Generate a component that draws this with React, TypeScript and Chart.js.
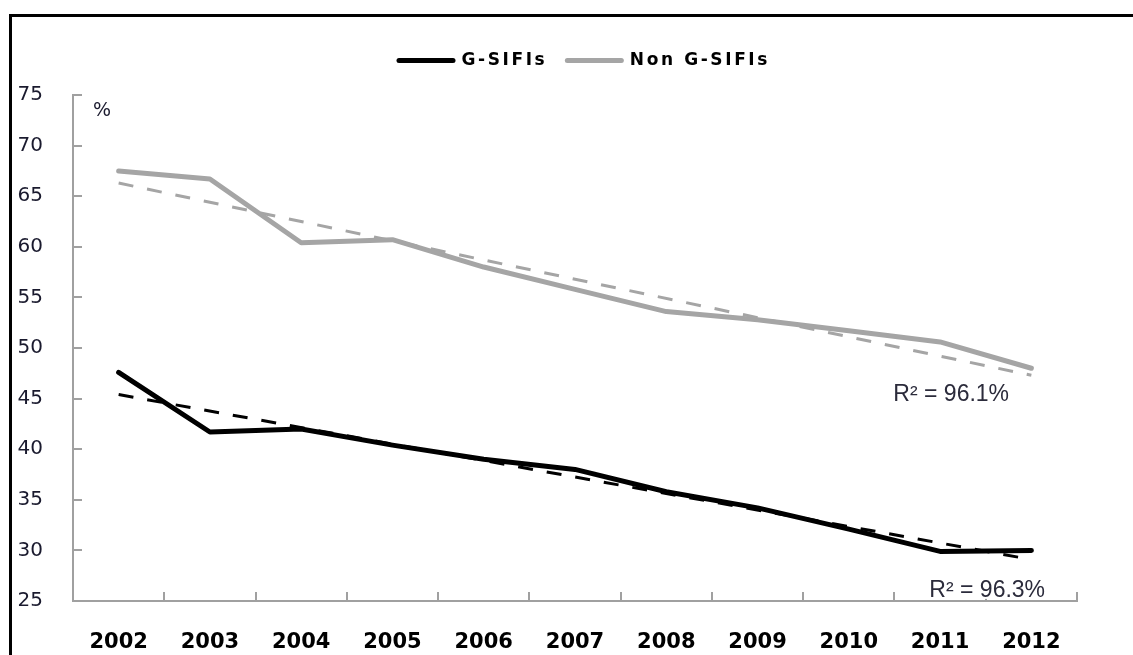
import React, { useEffect, useRef } from 'react';
import { Chart, registerables } from 'chart.js';

Chart.register(...registerables);

// ---- data ----
const years = ['2002', '2003', '2004', '2005', '2006', '2007', '2008', '2009', '2010', '2011', '2012'];
const gSifis = [47.6, 41.7, 42.0, 40.4, 39.0, 38.0, 35.8, 34.2, 32.1, 29.9, 30.0];
const nonGSifis = [67.5, 66.7, 60.4, 60.7, 58.0, 55.8, 53.6, 52.8, 51.7, 50.6, 48.0];
// linear trend lines: values at the first and last year
const trendYears = ['2002', '2012'];
const gSifisTrend = [45.4, 29.1];
const nonGSifisTrend = [66.3, 47.3];
const seriesNames = ['G-SIFIs', 'Non G-SIFIs'];
const yMin = 25;
const yMax = 75;
const yStep = 5;
const unitLabel = '%';
const rSquaredTexts = ['R\u00B2 = 96.1%', 'R\u00B2 = 96.3%'];
const rSquaredValues = [45.35, 26.0];

// ---- styles ----
const BLACK = '#000000';
const GREY = '#a5a5a5';
const AXIS = '#a0a0a0';
const LEGEND_SHIFT_X = 46;
const LEGEND_SHIFT_Y = -16;
const LEGEND_LETTER_SPACING = '2.6px';
const rSquaredDx = [-138, -102];

const legendTweak = {
  id: 'legendTweak',
  beforeLayout(chart: any) {
    const lg = chart.legend;
    if (lg && !lg.__patched) {
      lg.__patched = true;
      const ctx = chart.ctx;
      ['fit', 'draw'].forEach((m) => {
        const orig = lg[m].bind(lg);
        lg[m] = (...args: any[]) => {
          const prev = ctx.letterSpacing;
          ctx.letterSpacing = LEGEND_LETTER_SPACING;
          try {
            return orig(...args);
          } finally {
            ctx.letterSpacing = prev;
          }
        };
      });
    }
  },
  afterLayout(chart: any) {
    const lg = chart.legend;
    if (!lg) return;
    lg.left += LEGEND_SHIFT_X;
    lg.right += LEGEND_SHIFT_X;
    lg.top += LEGEND_SHIFT_Y;
    lg.bottom += LEGEND_SHIFT_Y;
  },
};

const textPlugin = {
  id: 'texts',
  afterDraw(chart: any) {
    const { ctx, chartArea, scales } = chart;
    ctx.save();
    ctx.textBaseline = 'middle';
    ctx.textAlign = 'left';
    ctx.font = '19px "DejaVu Sans"';
    ctx.fillStyle = '#1a1a2e';
    ctx.fillText(unitLabel, chartArea.left + 20, chartArea.top + 16);
    ctx.font = '23px "Liberation Sans"';
    rSquaredTexts.forEach((t, i) => {
      const px = scales.x.getPixelForValue(years.length - 1) + rSquaredDx[i];
      const py = scales.y.getPixelForValue(rSquaredValues[i]);
      const w = ctx.measureText(t).width;
      ctx.fillStyle = '#ffffff';
      ctx.fillRect(px - 2, py - 11, w + 4, 19);
      ctx.fillStyle = '#2b2b3b';
      ctx.fillText(t, px, py);
    });
    ctx.restore();
  },
};

export default function App() {
  const ref = useRef<HTMLCanvasElement>(null);

  useEffect(() => {
    const canvas = ref.current;
    if (!canvas) return;
    const colors = [BLACK, GREY];
    const chart = new Chart(canvas, {
      type: 'line',
      data: {
        labels: years,
        datasets: [
          {
            label: seriesNames[0],
            data: gSifis,
            borderColor: BLACK,
            borderWidth: 5,
            pointRadius: 0,
            tension: 0,
            borderJoinStyle: 'round',
            borderCapStyle: 'round',
          },
          {
            label: seriesNames[1],
            data: nonGSifis,
            borderColor: GREY,
            borderWidth: 5,
            pointRadius: 0,
            tension: 0,
            borderJoinStyle: 'round',
            borderCapStyle: 'round',
          },
          {
            label: seriesNames[0] + ' trend',
            data: trendYears.map((x, i) => ({ x, y: gSifisTrend[i] })),
            borderColor: BLACK,
            borderWidth: 3,
            borderDash: [15, 14],
            pointRadius: 0,
          },
          {
            label: seriesNames[1] + ' trend',
            data: trendYears.map((x, i) => ({ x, y: nonGSifisTrend[i] })),
            borderColor: GREY,
            borderWidth: 3,
            borderDash: [15, 14],
            pointRadius: 0,
          },
        ] as any,
      },
      options: {
        responsive: false,
        animation: false,
        devicePixelRatio: 1,
        events: [],
        layout: { padding: { top: 48, right: 56, left: 0, bottom: 0 } },
        plugins: {
          tooltip: { enabled: false },
          legend: {
            display: true,
            position: 'top',
            align: 'center',
            labels: {
              usePointStyle: true,
              pointStyleWidth: 54,
              padding: 20,
              color: '#000',
              font: { family: 'DejaVu Sans', size: 17, weight: 'bold' },
              generateLabels: () =>
                seriesNames.map((name, i) => ({
                  text: name,
                  fillStyle: colors[i],
                  strokeStyle: colors[i],
                  lineWidth: 5,
                  lineCap: 'round',
                  pointStyle: 'line',
                  datasetIndex: i,
                  hidden: false,
                  fontColor: '#000',
                })) as any,
            },
          },
        },
        scales: {
          x: {
            type: 'category',
            offset: true,
            afterFit: (s: any) => {
              s.height = 54;
            },
            grid: {
              offset: true,
              drawOnChartArea: false,
              drawTicks: true,
              tickLength: -9,
              color: AXIS,
              lineWidth: 2,
            },
            border: { display: true, color: AXIS, width: 2 },
            ticks: {
              padding: 38,
              color: '#000',
              font: { family: 'DejaVu Sans', size: 21, weight: 'bold' },
              maxRotation: 0,
              autoSkip: false,
            },
          },
          y: {
            min: yMin,
            max: yMax,
            afterFit: (s: any) => {
              s.width = 73;
            },
            grid: {
              drawOnChartArea: false,
              drawTicks: true,
              tickLength: -9,
              color: AXIS,
              lineWidth: 2,
            },
            border: { display: true, color: AXIS, width: 2 },
            ticks: {
              stepSize: yStep,
              padding: 39,
              color: '#1a1a2e',
              font: { family: 'DejaVu Sans', size: 20 },
            },
          },
        },
      } as any,
      plugins: [legendTweak, textPlugin],
    });
    return () => chart.destroy();
  }, []);

  return (
    <div
      style={{
        position: 'fixed',
        left: 0,
        top: 0,
        width: 1133,
        height: 655,
        overflow: 'hidden',
        background: '#ffffff',
      }}
    >
      <div
        style={{
          position: 'absolute',
          left: 9,
          top: 14,
          width: 1300,
          height: 800,
          borderTop: '3px solid #000',
          borderLeft: '3px solid #000',
        }}
      />
      <canvas
        ref={ref}
        width={1133}
        height={655}
        style={{ position: 'absolute', left: 0, top: 0, width: 1133, height: 655 }}
      />
    </div>
  );
}
